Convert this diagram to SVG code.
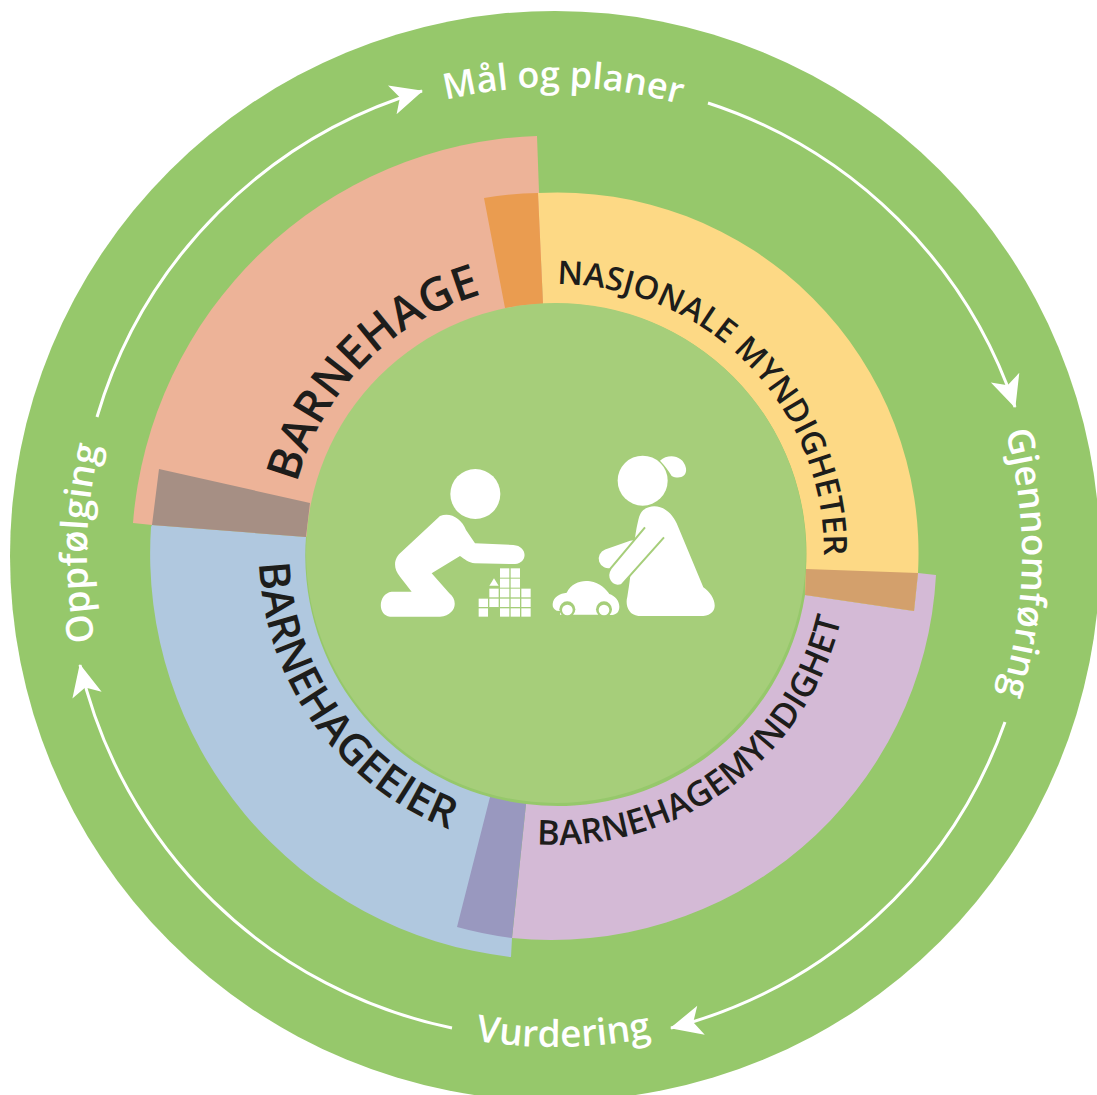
<svg xmlns="http://www.w3.org/2000/svg" width="1097" height="1095" viewBox="0 0 1097 1095">
<style>
.ring{font-family:"Open Sans","Lato",sans-serif;fill:#fff;font-weight:600;text-anchor:middle}
.sec{font-family:"Open Sans","Lato",sans-serif;fill:#1d1d1b;font-weight:600;text-anchor:middle}
.flow{fill:none;stroke:#fff;stroke-width:3}
.w{fill:#fff}
</style>
<defs>
<marker id="ah" markerUnits="userSpaceOnUse" markerWidth="40" markerHeight="40" refX="32" refY="16" orient="auto">
<path d="M1 1 L33 16 L1 31 L9 16 Z" fill="#fff"/>
</marker>
<path id="p1" d="M297.1 621.4 A268 268 0 0 1 625.4 293.1"/>
<path id="p2" d="M488.9 292.5 A268 268 0 0 1 814.2 623.6"/>
<path id="p3" d="M439.2 820.7 A293 293 0 0 0 847.1 518.8"/>
<path id="p4" d="M285.7 428.8 A297 297 0 0 0 584.5 847.6"/>
<path id="r1" d="M260.5 191.3 A468 468 0 0 1 862 201.8"/>
<path id="r2" d="M942.1 293.9 A467 467 0 0 1 932.8 829.5"/>
<path id="r3" d="M354.9 1004.5 A492 492 0 0 0 770.7 997.2"/>
<path id="r4" d="M141.8 774.7 A468 468 0 0 1 158.1 307"/>
</defs>
<rect width="1097" height="1095" fill="#fff"/>
<circle id="outer-ring" cx="555" cy="556" r="545" fill="#96c86b"/>

<g id="barnehage">
<path d="M537 136 A420 420 0 0 0 133 523 L152 525 L306 537 L543 304 Z" fill="#edb398"/>
</g>
<g id="nasjonale-myndigheter">
<path d="M538 193 A361 361 0 0 1 918 573 L914 611 L805 595 L806 569 A250 250 0 0 0 543 304 Z" fill="#fdd985"/>
</g>
<g id="barnehagemyndighet">
<path d="M936 575 A385 385 0 0 1 512 938 L526 804 A250 250 0 0 0 805 595 L914 611 L918 573 Z" fill="#d4bad6"/>
</g>
<g id="barnehageeier">
<path d="M152 525 L306 537 A250 250 0 0 0 490 797 L512 938 L511 957 A406 406 0 0 1 151 527 Z" fill="#b0c8df"/>
</g>
<g id="overlaps">
<path d="M484 198 A361 361 0 0 1 538 193 L543 304 A250 250 0 0 0 505 308 Z" fill="#ea9c50"/>
<path d="M806 569 L918 573 L914 611 L805 595 Z" fill="#d3a06c"/>
<path d="M490 797 A250 250 0 0 0 526 804 L512 938 A388 388 0 0 1 457 927 Z" fill="#9998bf"/>
<path d="M159 469 L310 503 L306 537 L152 525 Z" fill="#a68f84"/>
</g>
<g id="centre">
<circle cx="556" cy="553" r="250" fill="#a6ce7a"/>
</g>

<g id="connectors">
<path class="flow" marker-end="url(#ah)" d="M97 417 A482 482 0 0 1 422 91"/>
<path class="flow" marker-end="url(#ah)" d="M708 103 A482 482 0 0 1 1015 407"/>
<path class="flow" marker-end="url(#ah)" d="M1005 722 A482 482 0 0 1 671 1028"/>
<path class="flow" marker-end="url(#ah)" d="M452 1028 A482 482 0 0 1 80 665"/>
</g>

<g id="labels">
<text class="sec" font-size="46"><textPath href="#p1" startOffset="49.5%">BARNEHAGE</textPath></text>
<text class="sec" font-size="32.5"><textPath href="#p2" startOffset="50%">NASJONALE MYNDIGHETER</textPath></text>
<text class="sec" font-size="34.5"><textPath href="#p3" startOffset="50%">BARNEHAGEMYNDIGHET</textPath></text>
<text class="sec" font-size="43"><textPath href="#p4" startOffset="50%">BARNEHAGEEIER</textPath></text>
<text class="ring" font-size="36"><textPath href="#r1" startOffset="50%">Mål og planer</textPath></text>
<text class="ring" font-size="36.5"><textPath href="#r2" startOffset="50%">Gjennomføring</textPath></text>
<text class="ring" font-size="37"><textPath href="#r3" startOffset="50%">Vurdering</textPath></text>
<text class="ring" font-size="37"><textPath href="#r4" startOffset="49%">Oppfølging</textPath></text>
</g>

<g id="children" transform="translate(360 440) scale(.33333)">
<g id="boy">
<circle class="w" cx="346" cy="162" r="75"/>
<path class="w" d="M240 228 C270 215 305 235 318 270 L345 310 L460 315 C503 318 505 368 465 372 L345 370 C325 368 312 356 300 348 L215 400 L268 460 C295 480 290 525 240 530 L90 530 C50 525 55 460 95 455 L155 455 L120 410 C95 380 105 350 125 335 Z"/>
</g>
<g id="blocks" class="w">
<rect x="420" y="385" width="28" height="28"/><rect x="452" y="385" width="28" height="28"/>
<rect x="420" y="416" width="28" height="27"/><rect x="452" y="416" width="28" height="27"/>
<path d="M388 437 L402 415 L416 437 Z"/>
<rect x="388" y="446" width="28" height="26"/><rect x="420" y="446" width="28" height="26"/><rect x="452" y="446" width="28" height="26"/><rect x="484" y="446" width="28" height="26"/>
<rect x="356" y="476" width="28" height="25"/><rect x="388" y="476" width="28" height="25"/><rect x="420" y="476" width="28" height="25"/><rect x="452" y="476" width="28" height="25"/><rect x="484" y="476" width="28" height="25"/>
<rect x="356" y="505" width="28" height="25"/><rect x="420" y="505" width="28" height="25"/><rect x="452" y="505" width="28" height="25"/><rect x="484" y="505" width="28" height="25"/>
</g>
<g id="car">
<path class="w" d="M578 492 C580 470 600 460 620 458 C635 428 665 420 690 424 C720 428 740 450 748 462 C765 468 778 482 778 500 C778 515 770 524 755 525 L590 512 C582 508 577 502 578 492 Z"/>
<path class="w" d="M600 500 L760 500 L760 524 L600 524 Z"/>
<circle cx="622" cy="508" r="24" fill="#a6ce7a"/><circle cx="732" cy="508" r="24" fill="#a6ce7a"/>
<path d="M590 528 H770 V545 H590 Z" fill="#a6ce7a"/>
<circle class="w" cx="622" cy="510" r="16"/><circle class="w" cx="732" cy="510" r="16"/>
</g>
<g id="girl">
<circle class="w" cx="848" cy="122" r="75"/>
<path class="w" d="M900 62 C925 40 970 45 978 85 C982 112 955 118 935 108 C925 90 915 78 900 62 Z"/>
<path d="M745 356 L820 330" fill="none" stroke="#fff" stroke-width="58" stroke-linecap="round"/>
<path class="w" d="M850 210 C885 185 930 205 950 250 L1030 442 C1065 465 1085 520 1030 528 L835 528 C805 525 795 495 802 470 C815 400 820 300 835 240 C838 225 843 217 850 210 Z"/>
<path class="w" stroke="#a6ce7a" stroke-width="6" d="M855 262 L752 385 C735 410 752 445 785 435 L912 292"/>
</g>
</g>
</svg>
